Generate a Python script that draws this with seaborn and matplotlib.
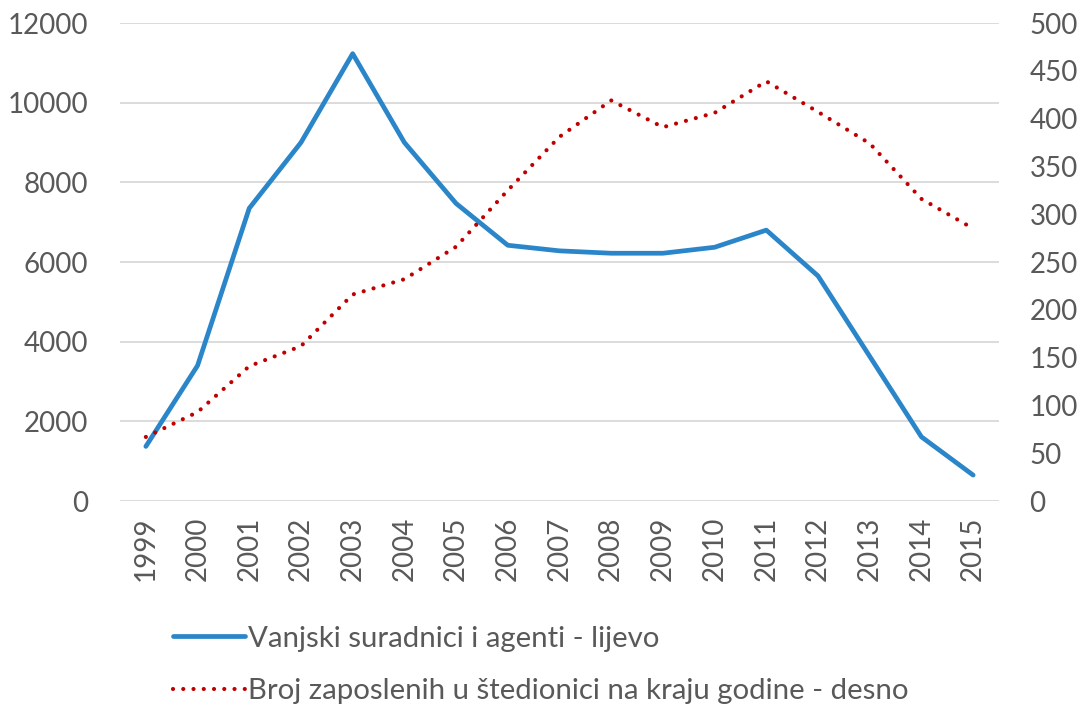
import matplotlib
matplotlib.use("Agg")
import matplotlib.pyplot as plt
import seaborn as sns
import pandas as pd
from matplotlib.lines import Line2D

years = [1999, 2000, 2001, 2002, 2003, 2004, 2005, 2006, 2007, 2008,
         2009, 2010, 2011, 2012, 2013, 2014, 2015]
agents = [1370, 3400, 7350, 9000, 11230, 9000, 7470, 6420, 6280, 6220,
          6220, 6370, 6800, 5650, 3630, 1610, 650]
employees = [67, 93, 141, 162, 216, 232, 266, 325, 381, 419,
             391, 406, 439, 407, 374, 316, 285]
label_left = "Vanjski suradnici i agenti - lijevo"
label_right = "Broj zaposlenih u štedionici na kraju godine - desno"

df = pd.DataFrame({"year": years, "agents": agents, "employees": employees})

sns.set_theme(style="white")
plt.rcParams["font.family"] = ["Lato", "DejaVu Sans"]

blue = "#2A86C9"
red = "#C00000"
txt = "#595959"
fs = 20

fig = plt.figure(figsize=(10.85, 7.11), dpi=100)
ax = fig.add_axes([120 / 1085, 1 - 501 / 711, 879 / 1085, 478 / 711])
ax2 = ax.twinx()

sns.lineplot(data=df, x="year", y="agents", ax=ax, color=blue, lw=3.4,
             solid_capstyle="round", solid_joinstyle="round", legend=False)
sns.lineplot(data=df, x="year", y="employees", ax=ax2, color=red, lw=3.0,
             legend=False)
ax2.lines[0].set_linestyle((0, (0.01, 2.45)))
ax2.lines[0].set_dash_capstyle("round")

ax.set_xlim(1998.5, 2015.5)
ax.set_ylim(0, 12000)
ax2.set_ylim(0, 500)
ax.set_yticks(range(0, 12001, 2000))
ax2.set_yticks(range(0, 501, 50))
ax.set_xticks(years)
ax.set_xticklabels([str(y) for y in years], rotation=90)

ax.grid(axis="y", color="#D9D9D9", lw=1.3)
ax.set_axisbelow(True)
ax2.grid(False)
for a in (ax, ax2):
    for s in a.spines.values():
        s.set_visible(False)
    a.set_xlabel("")
    a.set_ylabel("")
    a.tick_params(length=0, labelsize=fs, colors=txt)
ax.tick_params(axis="y", pad=23)
ax.tick_params(axis="x", pad=11)
ax2.tick_params(axis="y", pad=22)

handles = [
    Line2D([], [], color=blue, lw=3.4, solid_capstyle="round"),
    Line2D([], [], color=red, lw=3.0, linestyle=(0, (0.01, 2.45)),
           dash_capstyle="round"),
]
fig.legend(handles, [label_left, label_right], loc="upper left",
           bbox_to_anchor=(146 / 1085, 1 - 599 / 711), frameon=False,
           fontsize=21.2, labelcolor=txt, handlelength=2.45, handletextpad=0.1,
           labelspacing=0.9)

fig.savefig("out.png", dpi=100)
